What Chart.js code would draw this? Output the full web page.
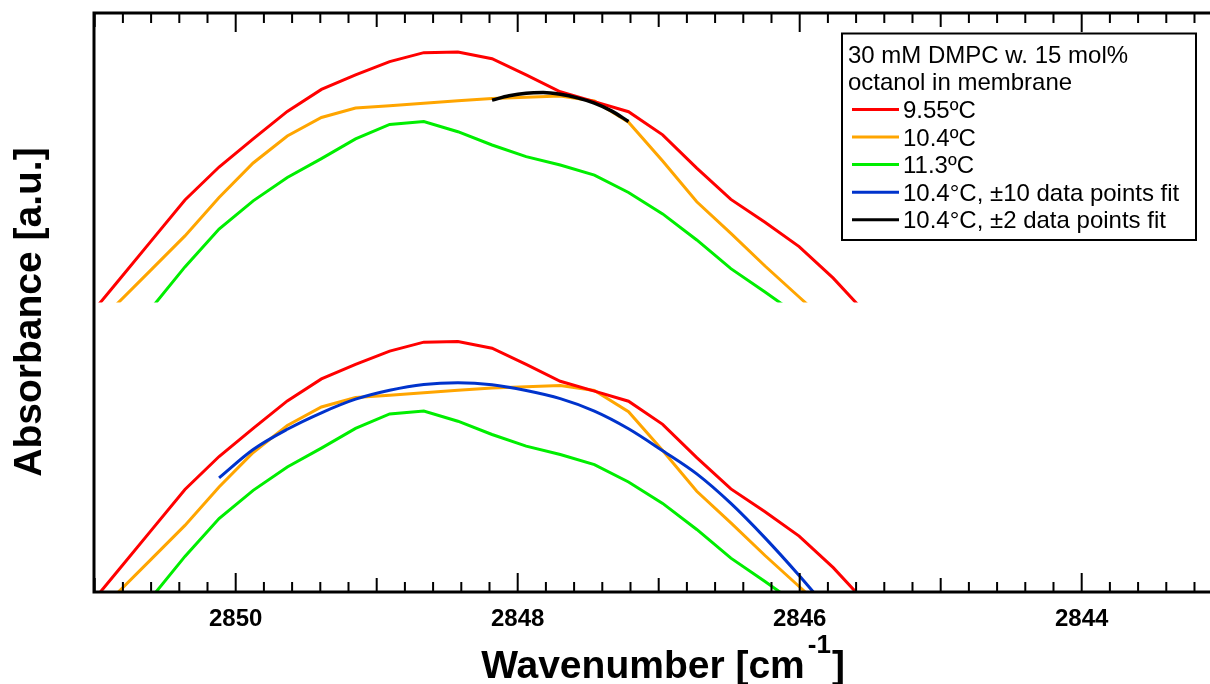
<!DOCTYPE html>
<html>
<head>
<meta charset="utf-8">
<script src="https://cdn.jsdelivr.net/npm/chart.js@4.4.1/dist/chart.umd.min.js"></script>
<style>
  html, body { margin: 0; padding: 0; background: #fff; }
</style>
</head>
<body>
<canvas id="absChart" width="1210" height="684"></canvas>
<script>
// wavenumber of each spectrum point (cm-1)
const wavenumber = [2851.086, 2850.844, 2850.602, 2850.360, 2850.118, 2849.876, 2849.634, 2849.392,
  2849.150, 2848.908, 2848.666, 2848.424, 2848.182, 2847.940, 2847.698, 2847.456, 2847.214, 2846.972,
  2846.730, 2846.488, 2846.246, 2846.004, 2845.762, 2845.520];

// absorbance, a.u. (same spectra shown in both panels)
const abs955 = [-0.074, 0.068, 0.211, 0.354, 0.468, 0.565, 0.660, 0.736, 0.786, 0.832, 0.863, 0.865,
  0.842, 0.786, 0.728, 0.694, 0.659, 0.579, 0.464, 0.356, 0.277, 0.193, 0.084, -0.043];
const abs104 = [null, -0.006, 0.112, 0.230, 0.363, 0.482, 0.575, 0.639, 0.672, 0.680, 0.688, 0.697,
  0.705, 0.709, 0.713, 0.696, 0.623, 0.489, 0.348, 0.239, 0.126, 0.019, -0.088, null];
const abs113 = [null, null, -0.022, 0.123, 0.254, 0.351, 0.432, 0.497, 0.565, 0.615, 0.625, 0.590,
  0.544, 0.504, 0.475, 0.440, 0.380, 0.306, 0.216, 0.117, 0.036, -0.047, null, null];

// fits of the 10.4ºC peak
const fit10X = [2850.118, 2849.876, 2849.634, 2849.392, 2849.150, 2848.908, 2848.666, 2848.424, 2848.182,
  2847.940, 2847.698, 2847.456, 2847.214, 2846.972, 2846.730, 2846.488, 2846.246, 2846.004, 2845.762];
const fit10Y = [0.394, 0.492, 0.562, 0.619, 0.666, 0.697, 0.717, 0.723, 0.716, 0.696, 0.668, 0.625,
  0.564, 0.488, 0.408, 0.306, 0.187, 0.057, -0.081];
const fit2X = [2848.182, 2848.061, 2847.940, 2847.819, 2847.698, 2847.577, 2847.456, 2847.335, 2847.214];
const fit2Y = [0.699, 0.714, 0.723, 0.725, 0.719, 0.707, 0.689, 0.662, 0.625];

const xTickLabels = [2850, 2848, 2846, 2844];
const legendTitle = ['30 mM DMPC w. 15 mol%', 'octanol in membrane'];
const seriesNames = ['9.55ºC', '10.4ºC', '11.3ºC', '10.4°C, ±10 data points fit', '10.4°C, ±2 data points fit'];
const yTitle = 'Absorbance [a.u.]';
const xTitle = ['Wavenumber [cm', '-1', ']'];

const RED = '#ff0000', ORANGE = '#ffa500', GREEN = '#00ee00', BLUE = '#0033cc', BLACK = '#000000';
const FONT = '"Liberation Sans", Arial, Helvetica, sans-serif';

function pts(xs, ys) {
  return xs.map((x, i) => ({ x: x, y: ys[i] }));
}

function spectrum(label, ys, color, axis, rank) {
  return {
    label: label,
    data: pts(wavenumber, ys),
    yAxisID: axis,
    borderColor: color,
    borderWidth: 3,
    pointRadius: 0,
    tension: 0,
    legendRank: rank,
  };
}

const datasets = [
  {
    label: seriesNames[4], data: pts(fit2X, fit2Y), yAxisID: 'yTop',
    borderColor: BLACK, borderWidth: 3.5, pointRadius: 0, cubicInterpolationMode: 'monotone', legendRank: 5,
  },
  {
    label: seriesNames[3], data: pts(fit10X, fit10Y), yAxisID: 'yBot',
    borderColor: BLUE, borderWidth: 3, pointRadius: 0, cubicInterpolationMode: 'monotone', legendRank: 4,
  },
  spectrum(seriesNames[0], abs955, RED, 'yTop', 1),
  spectrum(seriesNames[1], abs104, ORANGE, 'yTop', 2),
  spectrum(seriesNames[2], abs113, GREEN, 'yTop', 3),
  spectrum(seriesNames[0], abs955, RED, 'yBot', 0),
  spectrum(seriesNames[1], abs104, ORANGE, 'yBot', 0),
  spectrum(seriesNames[2], abs113, GREEN, 'yBot', 0),
];

// frame + inward ticks on bottom and top
const frameTicks = {
  id: 'frameTicks',
  afterDatasetsDraw(chart) {
    const { ctx, chartArea: a, scales: { x } } = chart;
    ctx.save();
    ctx.strokeStyle = '#000';
    ctx.lineWidth = 2;
    x.ticks.forEach(t => {
      const px = x.getPixelForValue(t.value);
      const tenths = Math.round(t.value * 10);
      let len = 10;
      if (tenths % 20 === 0) len = 19;
      else if (tenths % 10 === 0) len = 14;
      ctx.beginPath();
      ctx.moveTo(px, a.bottom);
      ctx.lineTo(px, a.bottom - len);
      ctx.moveTo(px, a.top);
      ctx.lineTo(px, a.top + len);
      ctx.stroke();
    });
    ctx.lineWidth = 3;
    ctx.beginPath();
    ctx.moveTo(a.right, a.top);
    ctx.lineTo(a.left, a.top);
    ctx.lineTo(a.left, a.bottom);
    ctx.lineTo(a.right, a.bottom);
    ctx.stroke();
    ctx.restore();
  }
};

const boxLegend = {
  id: 'boxLegend',
  afterDraw(chart) {
    const ctx = chart.ctx;
    const items = chart.data.datasets.filter(d => d.legendRank > 0)
      .sort((a, b) => a.legendRank - b.legendRank);
    ctx.save();
    ctx.fillStyle = '#fff';
    ctx.fillRect(842, 33, 354, 207);
    ctx.strokeStyle = '#000';
    ctx.lineWidth = 2;
    ctx.strokeRect(842, 33.5, 354, 206.5);
    ctx.font = '24px ' + FONT;
    ctx.fillStyle = '#000';
    ctx.textAlign = 'left';
    ctx.textBaseline = 'alphabetic';
    legendTitle.forEach((line, i) => ctx.fillText(line, 848, 62.7 + 27.6 * i));
    items.forEach((d, i) => {
      const y = 62.7 + 27.6 * (i + 2);
      ctx.strokeStyle = d.borderColor;
      ctx.lineWidth = 3;
      ctx.beginPath();
      ctx.moveTo(852, y - 8.5);
      ctx.lineTo(899, y - 8.5);
      ctx.stroke();
      ctx.fillText(d.label, 903, y);
    });
    ctx.restore();
  }
};

const axisTitles = {
  id: 'axisTitles',
  afterDraw(chart) {
    const ctx = chart.ctx;
    ctx.save();
    ctx.fillStyle = '#000';
    ctx.textBaseline = 'alphabetic';
    const big = 'bold 39px ' + FONT, small = 'bold 26px ' + FONT;

    ctx.save();
    ctx.font = big;
    ctx.translate(41, 312);
    ctx.rotate(-Math.PI / 2);
    ctx.textAlign = 'center';
    ctx.fillText(yTitle, 0, 0);
    ctx.restore();

    ctx.textAlign = 'left';
    ctx.font = big;
    const w1 = ctx.measureText(xTitle[0]).width;
    const w3 = ctx.measureText(xTitle[2]).width;
    ctx.font = small;
    const w2 = ctx.measureText(xTitle[1]).width;
    let x0 = 663 - (w1 + w2 + w3 + 4) / 2;
    ctx.font = big;
    ctx.fillText(xTitle[0], x0, 678);
    ctx.font = small;
    ctx.fillText(xTitle[1], x0 + w1 + 3, 653);
    ctx.font = big;
    ctx.fillText(xTitle[2], x0 + w1 + w2 + 4, 678);
    ctx.restore();
  }
};

const panelAxis = {
  type: 'linear',
  position: 'left',
  stack: 'absorbance',
  stackWeight: 1,
  min: 0,
  max: 1,
  ticks: { display: false },
  grid: { display: false, drawTicks: false },
  border: { display: false },
  afterFit: (s) => { s.width = 94; },
};

new Chart(document.getElementById('absChart').getContext('2d'), {
  type: 'line',
  data: { datasets: datasets },
  options: {
    responsive: false,
    animation: false,
    events: [],
    layout: { padding: { top: 13, right: 0, bottom: 0, left: 0 } },
    plugins: { legend: { display: false }, tooltip: { enabled: false } },
    scales: {
      x: {
        type: 'linear',
        position: 'bottom',
        reverse: true,
        min: 2843.09,
        max: 2851.005,
        grid: { display: false, drawTicks: false },
        border: { display: false },
        afterBuildTicks: (scale) => {
          const ticks = [];
          for (let t = 28432; t <= 28510; t += 2) ticks.push({ value: t / 10 });
          scale.ticks = ticks;
        },
        afterFit: (s) => { s.height = 92; },
        ticks: {
          autoSkip: false,
          maxRotation: 0,
          padding: 13,
          color: '#000',
          font: { family: FONT, size: 24, weight: 'bold' },
          callback: (value) => xTickLabels.includes(value) ? String(value) : '',
        },
      },
      // left boxes are stacked in reverse order: the later one ends up on top
      yBot: Object.assign({}, panelAxis),
      yTop: Object.assign({}, panelAxis),
    },
  },
  plugins: [frameTicks, boxLegend, axisTitles],
});
</script>
</body>
</html>
